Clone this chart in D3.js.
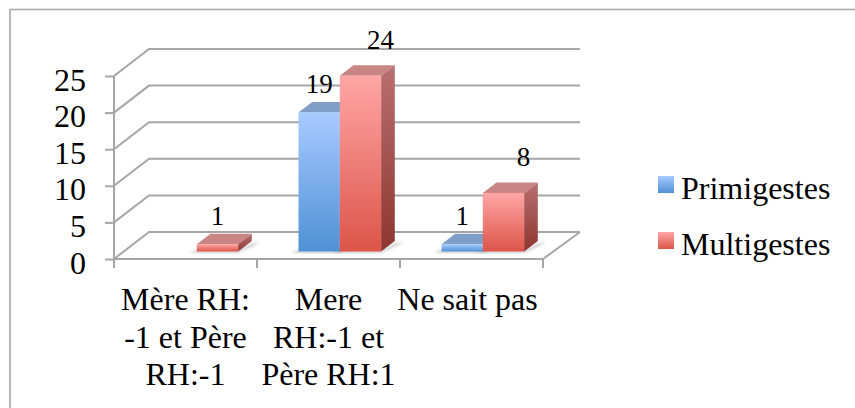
<!DOCTYPE html>
<html><head><meta charset="utf-8">
<script src="https://cdn.jsdelivr.net/npm/d3@7"></script>
<style>html,body{margin:0;padding:0;background:#fff;overflow:hidden}svg{display:block}</style>
</head><body><svg id="c" width="855" height="408"></svg>
<script>
const categories = [["Mère RH:","-1 et Père","RH:-1"],["Mere","RH:-1 et","Père RH:1"],["Ne sait pas"]];
const categoryKeys = ["a","b","c"];
const seriesNames = ["Primigestes","Multigestes"];
const primigestes = [0,19,1];
const multigestes = [1,24,8];
const yTicks = [0,5,10,15,20,25];

const svg=d3.select("#c");
const defs=svg.append("defs");
const serif="'Liberation Serif',serif";
function grad(id,a,b){const g=defs.append("linearGradient").attr("id",id).attr("x1",0).attr("y1",0).attr("x2",0).attr("y2",1);
 g.append("stop").attr("offset","0%").attr("stop-color",a);g.append("stop").attr("offset","100%").attr("stop-color",b);}
grad("blueF","#a8cbff","#4f90d6");grad("redF","#ffa6a6","#dc5548");
grad("blueS","#7a9cc8","#3a6ea8");grad("redS","#b87070","#8e3530");
defs.append("filter").attr("id","blur").append("feGaussianBlur").attr("stdDeviation",1.6);

const x=d3.scaleBand().domain(categoryKeys).range([114,543]);
const inner=d3.scaleBand().domain(seriesNames).range([41.5,41.5+82.6]);
const y=d3.scaleLinear().domain([0,25]).range([259,76]);
const backDx=35, backDy=-27, barDx=13.7, barDy=-10.5, floorOff=-7.5;
const grid="#a6a6a6";

svg.append("path").attr("d","M10,408V9.5H855").attr("fill","none").attr("stroke","#a8a8a8").attr("stroke-width",1.6);

const g=svg.append("g");
yTicks.forEach(t=>{
  const py=y(t);
  g.append("path").attr("d",`M114,${py}L${114+backDx},${py+backDy}L${543+backDx+2},${py+backDy}`).attr("fill","none").attr("stroke",grid).attr("stroke-width",2);
});
g.append("path").attr("d",`M114,259L543,259L${543+backDx+2},${259+backDy}`).attr("fill","none").attr("stroke",grid).attr("stroke-width",2);
const ya=d3.axisLeft(y).tickValues(yTicks).tickSize(9).tickPadding(20);
const ayg=svg.append("g").attr("transform","translate(114,0)").call(ya);
ayg.select(".domain").attr("stroke",grid).attr("stroke-width",2).attr("d",`M0,${y(25)}V${y(0)}`);
ayg.selectAll("line").attr("x2",-9).attr("stroke",grid).attr("stroke-width",2);
ayg.selectAll("text").attr("x",-28).attr("font-family",serif).attr("font-size",32).attr("fill","#000").attr("dy","0.44em");
[...categoryKeys.map(k=>x(k)),543].forEach(px=>{
  g.append("line").attr("x1",px).attr("x2",px).attr("y1",259).attr("y2",268).attr("stroke",grid).attr("stroke-width",2);
});

const rows=[];
categoryKeys.forEach((k,i)=>{
  rows.push({k,s:seriesNames[0],v:primigestes[i],f:"blue",top:"#7f9fc9",side:"blueS"});
  rows.push({k,s:seriesNames[1],v:multigestes[i],f:"red",top:"#c98484",side:"redS"});
});
const bars=rows.filter(d=>d.v>0);
const bg=svg.append("g");
bars.forEach(d=>{
  const x0=x(d.k)+inner(d.s), w=inner.bandwidth(), by=y(0)+floorOff;
  bg.append("path").attr("d",`M${x0-8},${by+1}L${x0+w},${by+1}L${x0+w+barDx+9},${by+barDy+1}L${x0+w+barDx},${by+barDy+3}L${x0+w},${by-1}L${x0},${by-1}Z`)
    .attr("fill","#777").attr("opacity",.55).attr("filter","url(#blur)");
});
bars.forEach(d=>{
  const x0=x(d.k)+inner(d.s), w=inner.bandwidth(), by=y(0)+floorOff, ty=by-(y(0)-y(d.v));
  bg.append("path").attr("d",`M${x0},${ty}L${x0+barDx},${ty+barDy}L${x0+w+barDx},${ty+barDy}L${x0+w},${ty}Z`).attr("fill",d.top);
  bg.append("path").attr("d",`M${x0+w},${ty}L${x0+w+barDx},${ty+barDy}L${x0+w+barDx},${by+barDy}L${x0+w},${by}Z`).attr("fill",`url(#${d.side})`);
  bg.append("rect").attr("x",x0).attr("y",ty).attr("width",w).attr("height",by-ty).attr("fill",`url(#${d.f}F)`);
});
bars.forEach(d=>{
  const x0=x(d.k)+inner(d.s), w=inner.bandwidth(), ty=y(0)+floorOff-(y(0)-y(d.v));
  const shifted=d.s===seriesNames[1]&&d.v>1;
  svg.append("text").attr("x",x0+w/2+(shifted?20:0)).attr("y",ty-(shifted?27:19.5))
   .attr("text-anchor","middle").attr("font-family",serif).attr("font-size",27).text(d.v);
});
categories.forEach((lines,i)=>{
  const cx=x(categoryKeys[i])+x.bandwidth()/2-(i==2?4:0);
  lines.forEach((l,j)=>svg.append("text").attr("x",cx).attr("y",310+j*37.5).attr("text-anchor","middle").attr("font-family",serif).attr("font-size",32).text(l));
});
const col=d3.scaleOrdinal().domain(seriesNames).range(["blue","red"]);
seriesNames.forEach((s,i)=>{
  const ly=176+i*56;
  svg.append("rect").attr("x",658).attr("y",ly).attr("width",16).attr("height",17).attr("fill",`url(#${col(s)}F)`);
  svg.append("text").attr("x",681).attr("y",ly+23).attr("font-family",serif).attr("font-size",32).text(s);
});
</script></body></html>
